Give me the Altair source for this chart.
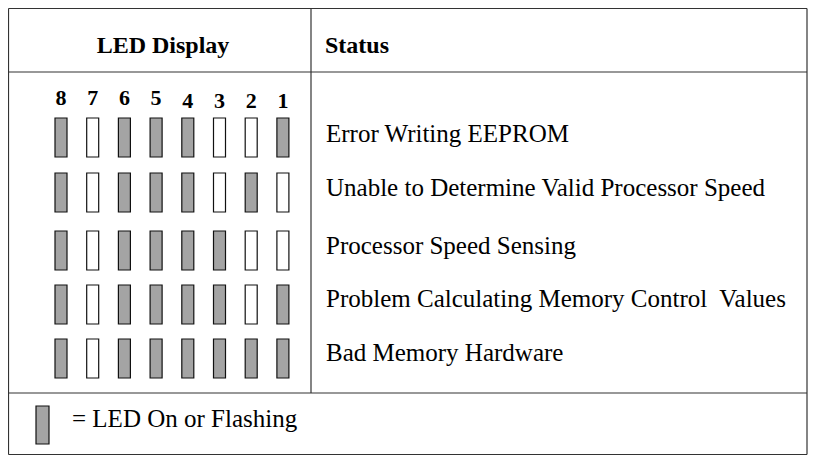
import altair as alt
import pandas as pd

# ---- data ----
led_numbers = [8, 7, 6, 5, 4, 3, 2, 1]
statuses = [
    "Error Writing EEPROM",
    "Unable to Determine Valid Processor Speed",
    "Processor Speed Sensing",
    "Problem Calculating Memory Control\u00a0 Values",
    "Bad Memory Hardware",
]
# LED states in order 8..1 (1 = on / flashing)
led_patterns = ["10111001", "10111010", "10111100", "10111101", "10111111"]
header_left = "LED Display"
header_right = "Status"
legend_text = "= LED On or Flashing"

FONT = "'Liberation Serif', 'Times New Roman', 'DejaVu Serif', serif"

# ---- layout (page pixel coordinates) ----
X0, X1, Y0, Y1 = 8.5, 807.0, 8.5, 454.5
COL_X = 311
HEAD_Y = 72
FOOT_Y = 393
LED_X0, LED_DX, LED_W, LED_H = 61, 31.7, 12, 39
ROW_TOP = [118, 173, 231, 285, 339]
ROW_BASE = [142, 196, 254, 307, 361]

xs = alt.Scale(domain=[8, 808], nice=False, zero=False)
ys = alt.Scale(domain=[8, 455], nice=False, zero=False, reverse=True)

def X(f):
    return alt.X(f + ":Q", scale=xs, axis=None)

def Y(f):
    return alt.Y(f + ":Q", scale=ys, axis=None)

lines = pd.DataFrame([
    dict(x=X0, x2=X1, y=Y0, y2=Y0),
    dict(x=X0, x2=X1, y=Y1, y2=Y1),
    dict(x=X0, x2=X0, y=Y0, y2=Y1),
    dict(x=X1, x2=X1, y=Y0, y2=Y1),
    dict(x=X0, x2=X1, y=HEAD_Y, y2=HEAD_Y),
    dict(x=X0, x2=X1, y=FOOT_Y, y2=FOOT_Y),
    dict(x=COL_X, x2=COL_X, y=Y0, y2=FOOT_Y),
])

rules = alt.Chart(lines).mark_rule(color="#333", strokeWidth=1.2).encode(
    x=X("x"), x2="x2", y=Y("y"), y2="y2"
)

rows = []
for r, pat in enumerate(led_patterns):
    for i, n in enumerate(led_numbers):
        cx = LED_X0 + i * LED_DX
        rows.append(dict(led=n, status=statuses[r], on=int(pat[i]),
                         x=cx - LED_W / 2, x2=cx + LED_W / 2,
                         y=ROW_TOP[r], y2=ROW_TOP[r] + LED_H))
# legend LED
rows.append(dict(led=0, status="legend", on=1, x=36, x2=49, y=406, y2=444))
led_df = pd.DataFrame(rows)

leds = alt.Chart(led_df).mark_rect(stroke="#111", strokeWidth=1.2).encode(
    x=X("x"), x2="x2", y=Y("y"), y2="y2",
    fill=alt.condition("datum.on == 1", alt.value("#a4a4a4"), alt.value("white")),
)

digits_df = pd.DataFrame([
    dict(label=str(n), x=LED_X0 + i * LED_DX, y=105 if i < 4 else 108)
    for i, n in enumerate(led_numbers)
])
digits = alt.Chart(digits_df).mark_text(
    font=FONT, fontSize=22, fontWeight="bold",
    align="center", baseline="alphabetic", color="black"
).encode(x=X("x"), y=Y("y"), text="label:N")

status_df = pd.DataFrame([
    dict(label=s, x=326, y=ROW_BASE[r]) for r, s in enumerate(statuses)
] + [dict(label=legend_text, x=72, y=427)])
status_txt = alt.Chart(status_df).mark_text(
    font=FONT, fontSize=25, align="left",
    baseline="alphabetic", color="black"
).encode(x=X("x"), y=Y("y"), text="label:N")

head_l = alt.Chart(pd.DataFrame([dict(label=header_left, x=163, y=53)])).mark_text(
    font=FONT, fontSize=24, fontWeight="bold",
    align="center", baseline="alphabetic", color="black"
).encode(x=X("x"), y=Y("y"), text="label:N")
head_r = alt.Chart(pd.DataFrame([dict(label=header_right, x=325, y=53)])).mark_text(
    font=FONT, fontSize=24, fontWeight="bold",
    align="left", baseline="alphabetic", color="black"
).encode(x=X("x"), y=Y("y"), text="label:N")

chart = alt.layer(rules, leds, digits, status_txt, head_l, head_r).properties(
    width=800, height=447, padding=0, background="white",
    autosize=alt.AutoSizeParams(type="none"),
).configure_view(stroke=None)

chart.save("out.html", embed_options={"renderer": "svg", "actions": False})
